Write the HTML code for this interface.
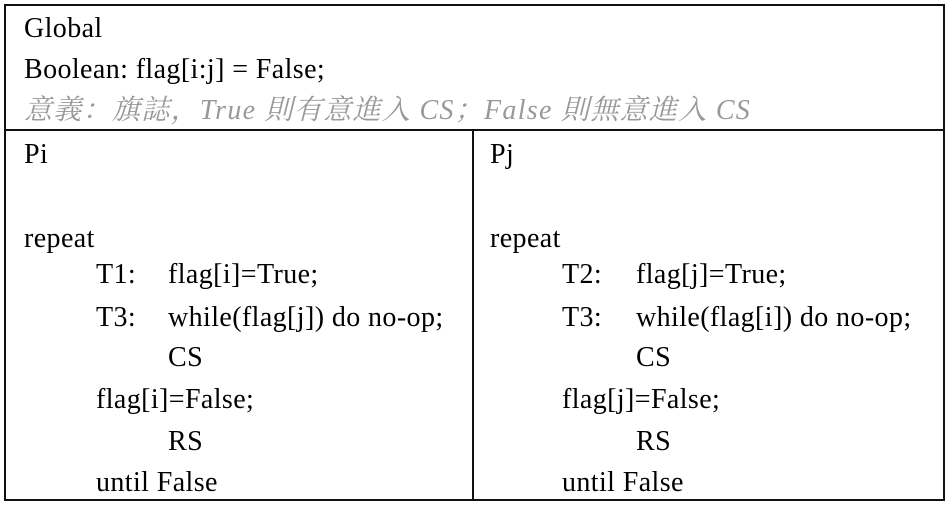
<!DOCTYPE html>
<html><head><meta charset="utf-8"><style>
body{margin:0;width:949px;height:508px;background:#fff;position:relative;overflow:hidden;font-family:"Liberation Serif","Noto Serif CJK SC",serif;font-size:28px;letter-spacing:0.4px;color:#000}
.b{position:absolute;background:#111}
.t{position:absolute;white-space:nowrap;line-height:30px}
.g{color:#999;font-style:italic;letter-spacing:1.3px}
</style></head><body>
<div class="b" style="left:4px;top:4px;width:941px;height:2px"></div>
<div class="b" style="left:4px;top:499px;width:941px;height:2px"></div>
<div class="b" style="left:4px;top:4px;width:2px;height:497px"></div>
<div class="b" style="left:943px;top:4px;width:2px;height:497px"></div>
<div class="b" style="left:4px;top:129px;width:941px;height:2px"></div>
<div class="b" style="left:472px;top:129px;width:2px;height:372px"></div>

<div class="t" style="left:24px;top:14px">Global</div>
<div class="t" style="left:24px;top:55px">Boolean: flag[i:j] = False;</div>
<div class="t g" style="left:24px;top:96px">意義：旗誌，True 則有意進入 CS；False 則無意進入 CS</div>

<div class="t" style="left:24px;top:140px">Pi</div>
<div class="t" style="left:24px;top:224px">repeat</div>
<div class="t" style="left:96px;top:260px">T1:</div>
<div class="t" style="left:168px;top:260px">flag[i]=True;</div>
<div class="t" style="left:96px;top:303px">T3:</div>
<div class="t" style="left:168px;top:303px">while(flag[j]) do no-op;</div>
<div class="t" style="left:168px;top:343px">CS</div>
<div class="t" style="left:96px;top:385px">flag[i]=False;</div>
<div class="t" style="left:168px;top:427px">RS</div>
<div class="t" style="left:96px;top:468px">until False</div>

<div class="t" style="left:490px;top:140px">Pj</div>
<div class="t" style="left:490px;top:224px">repeat</div>
<div class="t" style="left:562px;top:260px">T2:</div>
<div class="t" style="left:636px;top:260px">flag[j]=True;</div>
<div class="t" style="left:562px;top:303px">T3:</div>
<div class="t" style="left:636px;top:303px">while(flag[i]) do no-op;</div>
<div class="t" style="left:636px;top:343px">CS</div>
<div class="t" style="left:562px;top:385px">flag[j]=False;</div>
<div class="t" style="left:636px;top:427px">RS</div>
<div class="t" style="left:562px;top:468px">until False</div>
</body></html>
